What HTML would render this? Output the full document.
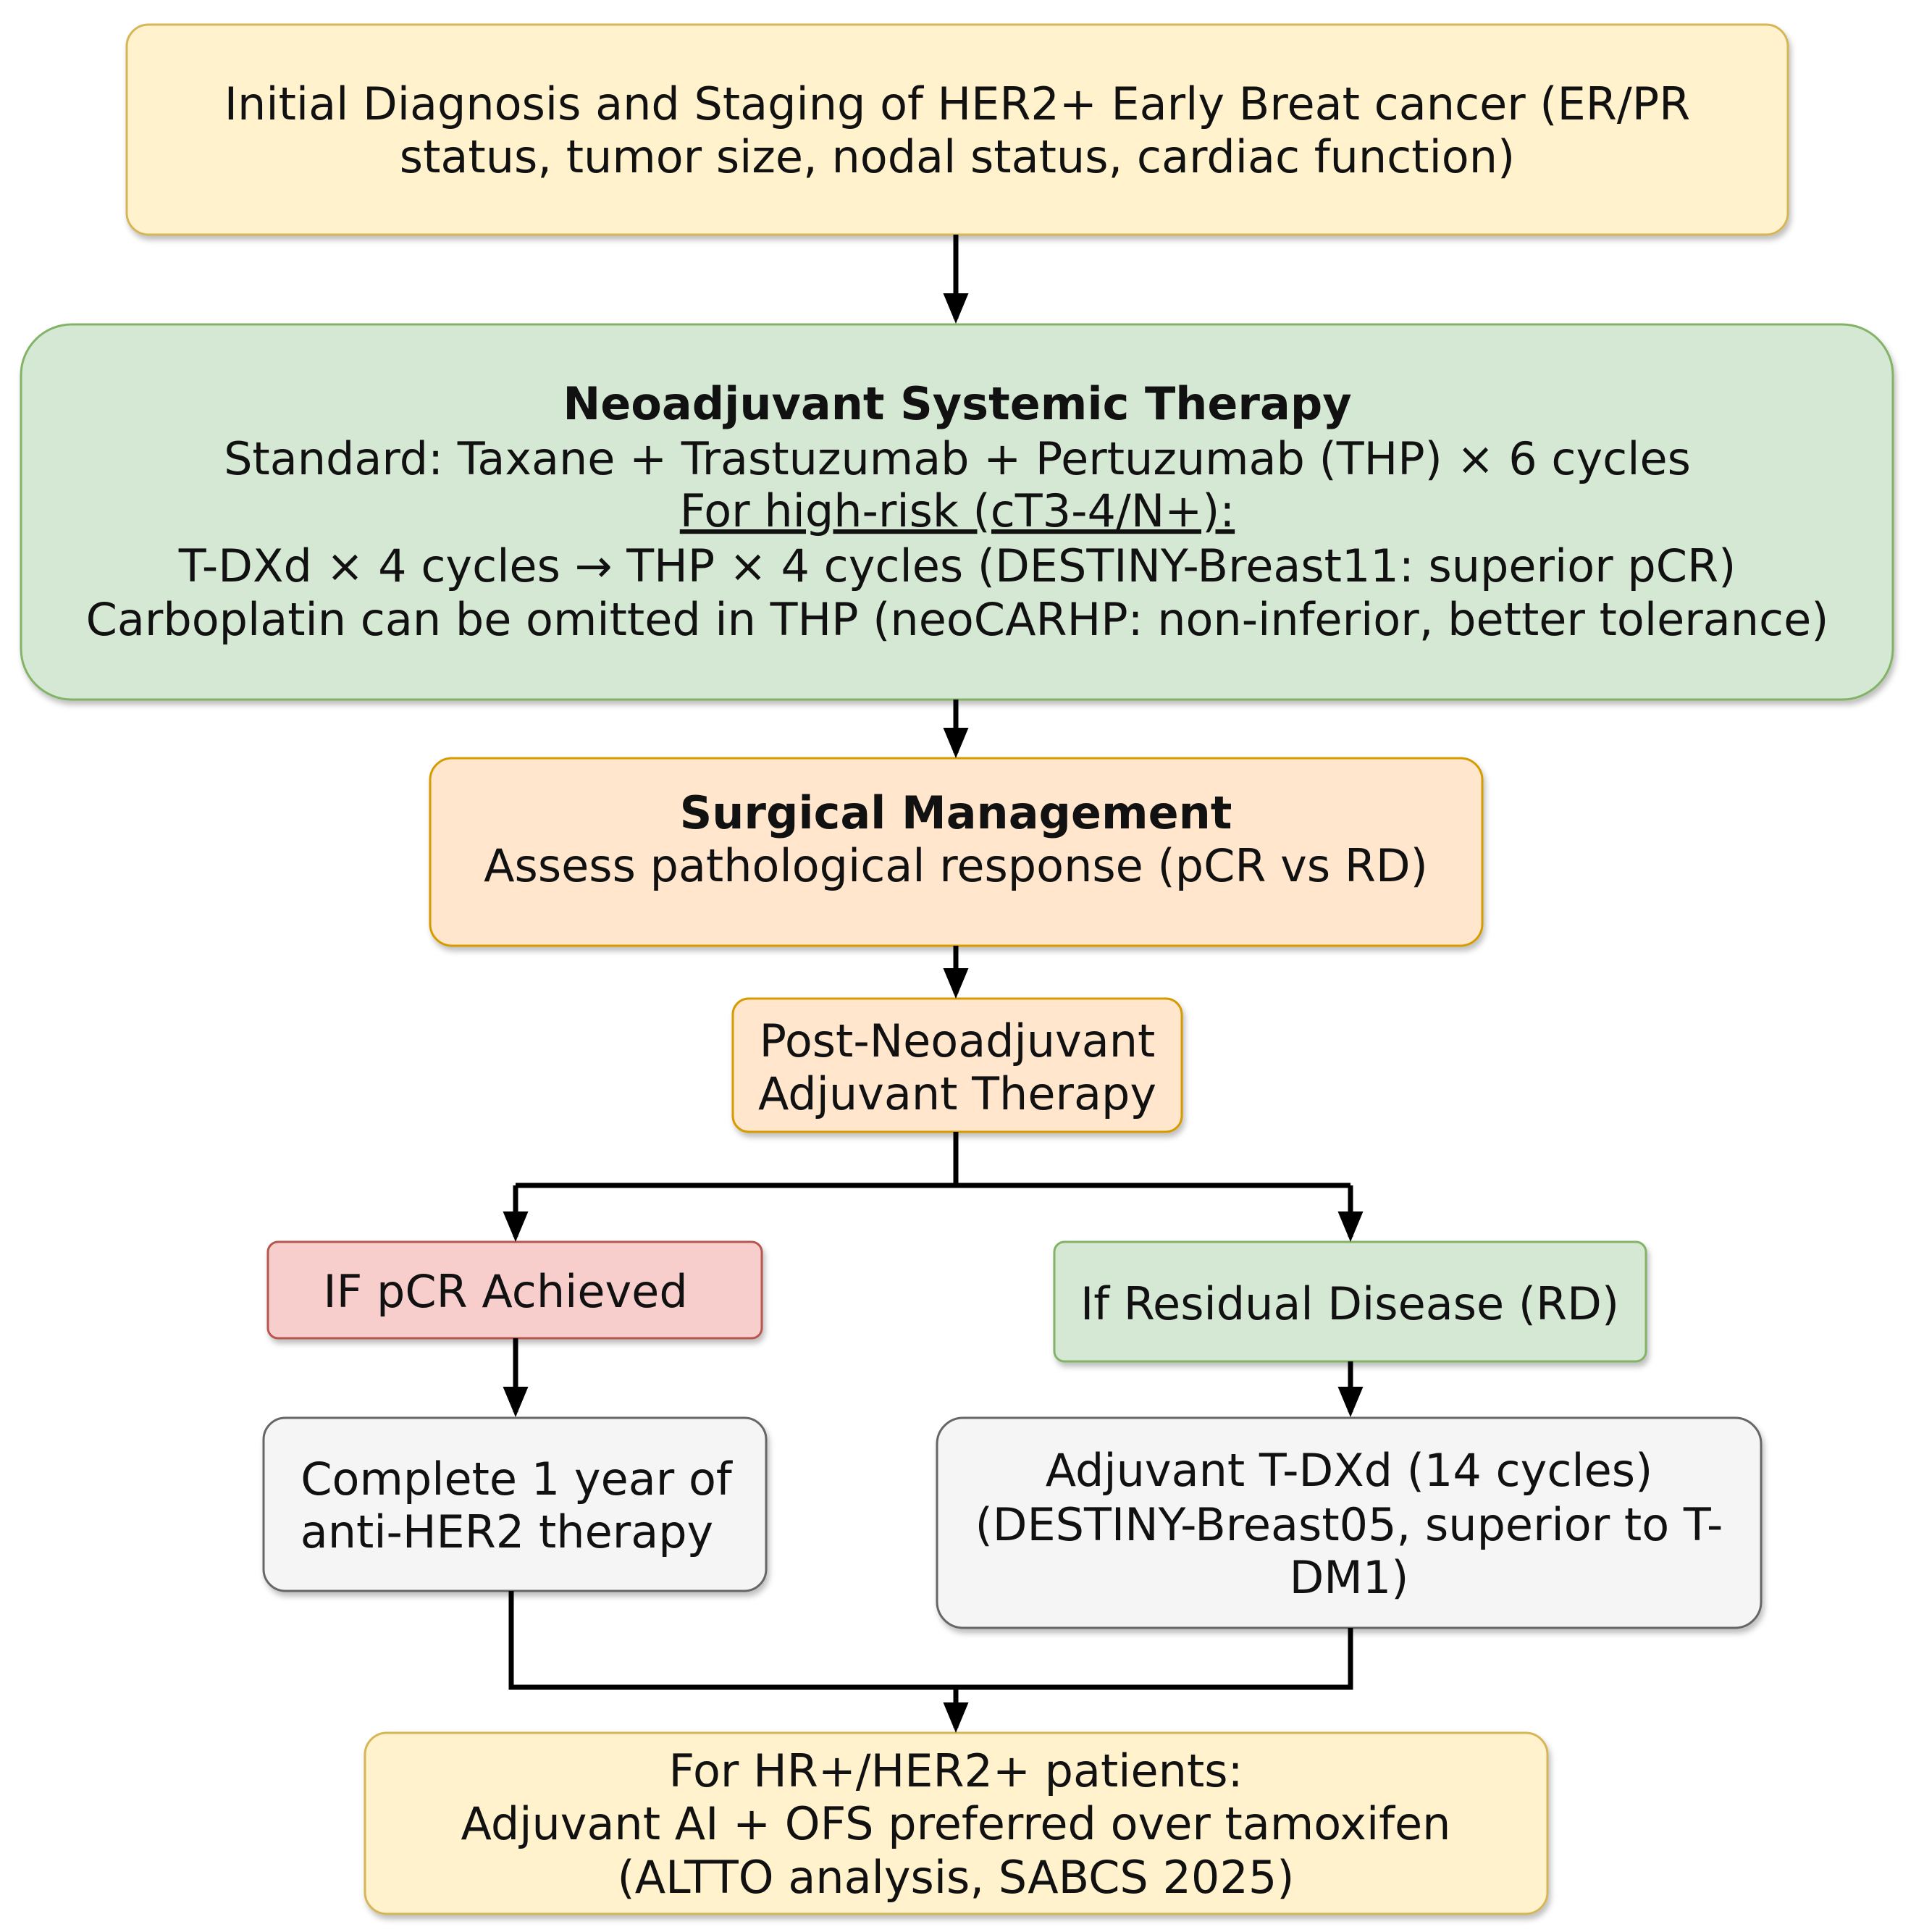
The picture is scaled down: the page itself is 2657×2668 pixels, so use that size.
<!DOCTYPE html>
<html><head><meta charset="utf-8"><style>
html,body{margin:0;padding:0;background:#fff;}
svg{display:block;}
text{font-family:"DejaVu Sans","Liberation Sans",sans-serif;font-size:62px;fill:#111;text-anchor:middle;}
.b{font-weight:bold;}
</style></head><body>
<svg width="2657" height="2668" viewBox="0 0 2657 2668" xmlns="http://www.w3.org/2000/svg">
<defs>
<filter id="sh" x="-5%" y="-5%" width="110%" height="120%"><feDropShadow dx="3" dy="6" stdDeviation="4" flood-color="#000" flood-opacity="0.25"/></filter>
<marker id="ah" markerWidth="6" markerHeight="6" refX="5" refY="3" orient="auto" markerUnits="strokeWidth"><path d="M0,0.5 L6,3 L0,5.5 Z" fill="#000"/></marker>
</defs>
<g stroke-width="3" filter="url(#sh)">
<rect x="175" y="34" width="2294" height="290" rx="30" fill="#fff2cc" stroke="#d6b656"/>
<rect x="29" y="448" width="2585" height="518" rx="70" fill="#d5e8d4" stroke="#82b366"/>
<rect x="594" y="1047" width="1453" height="259" rx="30" fill="#ffe6cc" stroke="#d79b00"/>
<rect x="1012" y="1379" width="620" height="184" rx="22" fill="#ffe6cc" stroke="#d79b00"/>
<rect x="370" y="1715" width="682" height="133" rx="14" fill="#f8cecc" stroke="#b85450"/>
<rect x="1456" y="1715" width="817" height="165" rx="14" fill="#d5e8d4" stroke="#82b366"/>
<rect x="364" y="1958" width="694" height="239" rx="30" fill="#f5f5f5" stroke="#666"/>
<rect x="1294" y="1958" width="1138" height="290" rx="36" fill="#f5f5f5" stroke="#666"/>
<rect x="504" y="2393" width="1633" height="250" rx="30" fill="#fff2cc" stroke="#d6b656"/>
</g>
<g stroke="#000" stroke-width="7" fill="none">
<path d="M1320 324 V440" marker-end="url(#ah)"/>
<path d="M1320 966 V1040" marker-end="url(#ah)"/>
<path d="M1320 1306 V1372" marker-end="url(#ah)"/>
<path d="M1320 1563 V1637 M712 1637 H1865"/>
<path d="M712 1637 V1708" marker-end="url(#ah)"/>
<path d="M1865 1637 V1708" marker-end="url(#ah)"/>
<path d="M712 1848 V1950" marker-end="url(#ah)"/>
<path d="M1865 1880 V1950" marker-end="url(#ah)"/>
<path d="M706 2197 V2330 H1865 V2248"/>
<path d="M1320 2330 V2386" marker-end="url(#ah)"/>
</g>
<text x="1322" y="165">Initial Diagnosis and Staging of HER2+ Early Breat cancer (ER/PR</text>
<text x="1322" y="238">status, tumor size, nodal  status, cardiac function)</text>
<text x="1322" y="579" class="b">Neoadjuvant Systemic Therapy</text>
<text x="1322" y="655">Standard: Taxane + Trastuzumab + Pertuzumab (THP) × 6 cycles</text>
<text x="1322" y="727" text-decoration="underline">For high-risk (cT3-4/N+): </text>
<text x="1322" y="803">T-DXd × 4 cycles → THP × 4 cycles (DESTINY-Breast11: superior pCR)</text>
<text x="1322" y="877">Carboplatin can be omitted in THP (neoCARHP: non-inferior, better tolerance)</text>
<text x="1320" y="1144" class="b">Surgical Management</text>
<text x="1320" y="1217">Assess pathological response (pCR vs RD)</text>
<text x="1322" y="1459">Post-Neoadjuvant</text>
<text x="1322" y="1532">Adjuvant Therapy</text>
<text x="698" y="1805">IF pCR Achieved</text>
<text x="1864" y="1822">If Residual Disease (RD)</text>
<text x="713" y="2064">Complete 1 year of</text>
<text x="700" y="2137">anti-HER2 therapy</text>
<text x="1863" y="2052">Adjuvant T-DXd (14 cycles)</text>
<text x="1863" y="2127">(DESTINY-Breast05, superior to T-</text>
<text x="1863" y="2200">DM1)</text>
<text x="1320" y="2467">For HR+/HER2+ patients:</text>
<text x="1320" y="2540">Adjuvant AI + OFS preferred over tamoxifen</text>
<text x="1320" y="2614">(ALTTO analysis, SABCS 2025)</text>
</svg>
</body></html>
